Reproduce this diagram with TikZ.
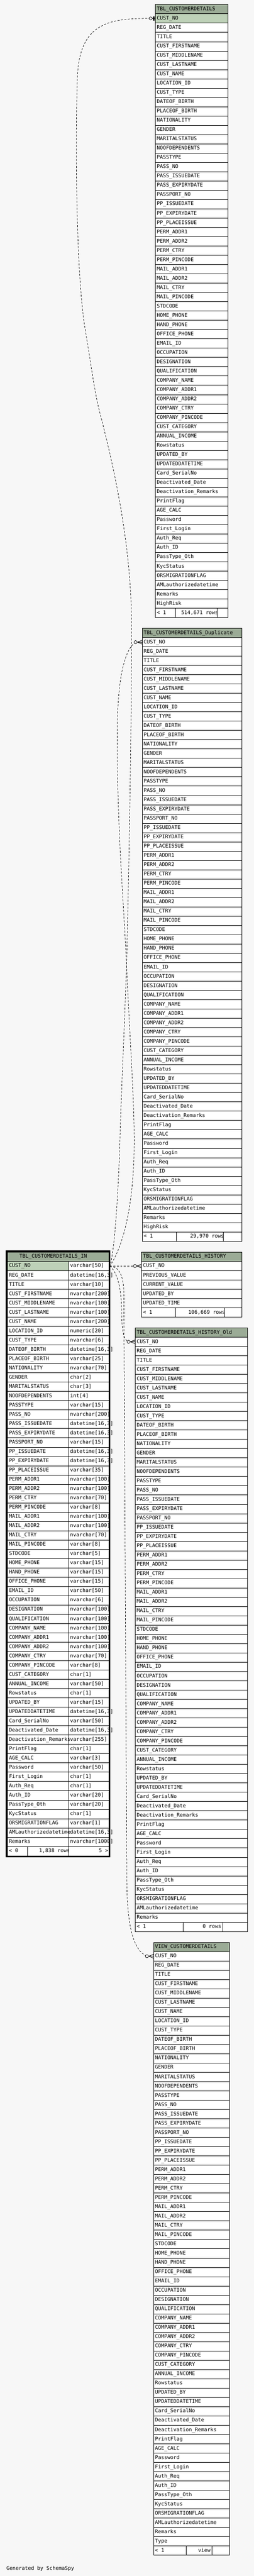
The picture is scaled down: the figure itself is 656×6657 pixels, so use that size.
\documentclass[tikz,border=0pt]{standalone}
\usepackage{fontspec}
\usetikzlibrary{calc}
\newfontfamily\tabfont{DejaVu Sans Mono}
\definecolor{bgcol}{HTML}{F7F7F7}
\definecolor{hdcol}{HTML}{9BAB96}
\definecolor{pkcol}{HTML}{BED1B8}
\tikzset{
  cell/.style={draw=black, line width=1pt, minimum height=24pt, inner sep=0pt, outer sep=0pt, anchor=north west, fill=white},
  txt/.style={font=\tabfont\fontsize{13.2}{16}\selectfont, inner sep=0pt, outer sep=0pt, anchor=base west},
  conn/.style={draw=black, line width=1pt, dash pattern=on 5pt off 4pt},
  endmark/.style={draw=black, line width=1pt},
}
\catcode`\_=12
\def\colsA{CUST_NO,REG_DATE,TITLE,CUST_FIRSTNAME,CUST_MIDDLENAME,CUST_LASTNAME,CUST_NAME,LOCATION_ID,CUST_TYPE,%
DATEOF_BIRTH,PLACEOF_BIRTH,NATIONALITY,GENDER,MARITALSTATUS,NOOFDEPENDENTS,PASSTYPE,PASS_NO,PASS_ISSUEDATE,%
PASS_EXPIRYDATE,PASSPORT_NO,PP_ISSUEDATE,PP_EXPIRYDATE,PP_PLACEISSUE,PERM_ADDR1,PERM_ADDR2,PERM_CTRY,PERM_PINCODE,%
MAIL_ADDR1,MAIL_ADDR2,MAIL_CTRY,MAIL_PINCODE,STDCODE,HOME_PHONE,HAND_PHONE,OFFICE_PHONE,EMAIL_ID,OCCUPATION,%
DESIGNATION,QUALIFICATION,COMPANY_NAME,COMPANY_ADDR1,COMPANY_ADDR2,COMPANY_CTRY,COMPANY_PINCODE,CUST_CATEGORY,%
ANNUAL_INCOME,Rowstatus,UPDATED_BY,UPDATEDDATETIME,Card_SerialNo,Deactivated_Date,Deactivation_Remarks,PrintFlag,%
AGE_CALC,Password,First_Login,Auth_Req,Auth_ID,PassType_Oth,KycStatus,ORSMIGRATIONFLAG,AMLauthorizedatetime,Remarks}
\edef\colsB{\colsA,HighRisk}
\edef\colsV{\colsA,Type}
\def\colsH{CUST_NO,PREVIOUS_VALUE,CURRENT_VALUE,UPDATED_BY,UPDATED_TIME}

% #1 prefix, #2 x, #3 width, #4 ytop, #5 title, #6 list, #7 pk fill
\newcommand\mktable[7]{%
  \node[cell, fill=hdcol, minimum width=#3pt] (#1-0) at (#2,#4) {};
  \node[txt] (#1-title) at ($(#1-0.west)+(4,3.5)$) {#5};
  \foreach \cname [count=\i] in #6 {%
    \ifnum\i=1 \def\cf{#7}\else\def\cf{white}\fi
    \node[cell, fill=\cf, minimum width=#3pt] (#1-\i) at (#2,#4+24*\i) {};
    \node[txt] (#1-t\i) at ($(#1-\i.west)+(4,3.5)$) {\cname};
  }%
}
% #1 prefix, #2 x, #3 y, #4 #5 #6 widths, #7 left text, #8 middle text, #9 offset of its right end
\newcommand\mkfoot[9]{%
  \node[cell, minimum width=#4pt] (#1-fa) at (#2,#3) {};
  \node[cell, minimum width=#5pt] (#1-fb) at (#1-fa.north east) {};
  \node[cell, minimum width=#6pt] (#1-fc) at (#1-fb.north east) {};
  \node[txt] (#1-fat) at ($(#1-fa.west)+(4,3.5)$) {#7};
  \begin{scope}
    \clip (#1-fb.north west) rectangle (#1-fb.south east);
    \node[txt, anchor=base east] (#1-fbt) at ($(#1-fb.west)+(#9,3.5)$) {#8};
  \end{scope}
}
\newcommand\crowfoot[1]{%
  \draw[endmark] ($(#1.west)+(-12.5,0)$) -- ($(#1.west)+(0,-5)$)
                 ($(#1.west)+(-12.5,0)$) -- (#1.west)
                 ($(#1.west)+(-12.5,0)$) -- ($(#1.west)+(0,5)$);
  \filldraw[endmark, fill=bgcol] ($(#1.west)+(-17,0)$) circle (4);
}

\begin{document}
\begin{tikzpicture}[x=1pt, y=-1pt]
\fill[bgcol] (0,0) rectangle (656,6657);
\useasboundingbox (0,0) rectangle (656,6657);

% ---------- TBL_CUSTOMERDETAILS ----------
\mktable{cd}{401.3}{188}{11.7}{TBL_CUSTOMERDETAILS}{\colsB}{pkcol}
\mkfoot{cd}{401.3}{1571.7}{51.4}{108}{28.6}{< 1}{514,671 rows}{111}

% ---------- TBL_CUSTOMERDETAILS_Duplicate ----------
\mktable{dup}{367.3}{257}{1623.5}{TBL_CUSTOMERDETAILS_Duplicate}{\colsB}{white}
\mkfoot{dup}{367.3}{3183.5}{88.7}{120.7}{47.6}{< 1}{29,970 rows}{123}

% ---------- TBL_CUSTOMERDETAILS_HISTORY ----------
\mktable{hist}{365.7}{259.6}{3235.7}{TBL_CUSTOMERDETAILS_HISTORY}{\colsH}{white}
\mkfoot{hist}{365.7}{3379.7}{87}{126.6}{46}{< 1}{106,669 rows}{129.3}

% ---------- TBL_CUSTOMERDETAILS_HISTORY_Old ----------
\mktable{hold}{349.4}{290.6}{3431.5}{TBL_CUSTOMERDETAILS_HISTORY_Old}{\colsA}{white}
\mkfoot{hold}{349.4}{4967.5}{124.2}{102.1}{64.3}{< 1}{0 rows}{97.9}

% ---------- VIEW_CUSTOMERDETAILS ----------
\mktable{view}{396.6}{196.7}{5019.3}{VIEW_CUSTOMERDETAILS}{\colsV}{white}
\mkfoot{view}{396.6}{6579.3}{85}{65.7}{46}{< 1}{view}{62.4}

% ---------- TBL_CUSTOMERDETAILS_IN (focus) ----------
\node[cell, fill=hdcol, minimum width=261.7pt] (in-0) at (19.3,3235.7) {};
\node[txt] (in-title) at ($(in-0.west)+(30.7,3.5)$) {TBL_CUSTOMERDETAILS_IN};
\foreach \cn/\ct [count=\i] in {CUST_NO/varchar[50],
REG_DATE/{datetime[16,3]},
TITLE/varchar[10],
CUST_FIRSTNAME/nvarchar[200],
CUST_MIDDLENAME/nvarchar[100],
CUST_LASTNAME/nvarchar[100],
CUST_NAME/nvarchar[200],
LOCATION_ID/numeric[20],
CUST_TYPE/nvarchar[6],
DATEOF_BIRTH/{datetime[16,3]},
PLACEOF_BIRTH/varchar[25],
NATIONALITY/nvarchar[70],
GENDER/char[2],
MARITALSTATUS/char[3],
NOOFDEPENDENTS/int[4],
PASSTYPE/varchar[15],
PASS_NO/nvarchar[200],
PASS_ISSUEDATE/{datetime[16,3]},
PASS_EXPIRYDATE/{datetime[16,3]},
PASSPORT_NO/varchar[15],
PP_ISSUEDATE/{datetime[16,3]},
PP_EXPIRYDATE/{datetime[16,3]},
PP_PLACEISSUE/varchar[35],
PERM_ADDR1/nvarchar[100],
PERM_ADDR2/nvarchar[100],
PERM_CTRY/nvarchar[70],
PERM_PINCODE/varchar[8],
MAIL_ADDR1/nvarchar[100],
MAIL_ADDR2/nvarchar[100],
MAIL_CTRY/nvarchar[70],
MAIL_PINCODE/varchar[8],
STDCODE/varchar[5],
HOME_PHONE/varchar[15],
HAND_PHONE/varchar[15],
OFFICE_PHONE/varchar[15],
EMAIL_ID/varchar[50],
OCCUPATION/nvarchar[6],
DESIGNATION/nvarchar[100],
QUALIFICATION/nvarchar[100],
COMPANY_NAME/nvarchar[100],
COMPANY_ADDR1/nvarchar[100],
COMPANY_ADDR2/nvarchar[100],
COMPANY_CTRY/nvarchar[70],
COMPANY_PINCODE/varchar[8],
CUST_CATEGORY/char[1],
ANNUAL_INCOME/varchar[50],
Rowstatus/char[1],
UPDATED_BY/varchar[15],
UPDATEDDATETIME/{datetime[16,3]},
Card_SerialNo/varchar[50],
Deactivated_Date/{datetime[16,3]},
Deactivation_Remarks/varchar[255],
PrintFlag/char[1],
AGE_CALC/varchar[3],
Password/varchar[50],
First_Login/char[1],
Auth_Req/char[1],
Auth_ID/varchar[20],
PassType_Oth/varchar[20],
KycStatus/char[1],
ORSMIGRATIONFLAG/varchar[1],
AMLauthorizedatetime/{datetime[16,3]},
Remarks/nvarchar[1000]} {%
  \ifnum\i=1 \def\cf{pkcol}\else\def\cf{white}\fi
  \node[cell, fill=\cf, minimum width=158pt] (in-\i) at (19.3,3235.7+24*\i) {};
  \node[cell, minimum width=103.7pt] (in-y\i) at (in-\i.north east) {};
  \node[txt] (in-n\i) at ($(in-\i.west)+(4,3.5)$) {\cn};
  \node[txt] (in-t\i) at ($(in-y\i.west)+(4,3.5)$) {\ct};
}
\mkfoot{in}{19.3}{4771.7}{52.2}{105.9}{103.6}{< 0}{1,838 rows}{109}
\node[txt, anchor=base east] (in-fct) at ($(in-fc.west)+(102,3.5)$) {5 >};
\draw[line width=4pt] (17.3,3233.7) rectangle (283,4797.7);

% ---------- connectors ----------
\coordinate (J) at ($(in-y1.east)+(3,0)$);
\coordinate (cdC) at ($(cd-1.west)+(-12,0)$);
\coordinate (dupC) at ($(dup-1.west)+(-17,0)$);
\coordinate (histC) at ($(hist-1.west)+(-17,0)$);
\coordinate (holdC) at ($(hold-1.west)+(-17,0)$);
\coordinate (viewC) at ($(view-1.west)+(-17,0)$);

\draw[conn] (cdC) .. controls (280,47) and (205,60) .. (200,200)
  .. controls (195,340) and (195,700) .. (220,850)
  .. controls (235,940) and (245,1020) .. (260,1074)
  .. controls (300,1230) and (340,1420) .. (340,1621)
  .. controls (340,1900) and (332,2300) .. (327,2495)
  .. controls (320,2700) and (312,2850) .. (310,2947)
  .. controls (305,3100) and (295,3240) .. (J);

\draw[conn] (dupC) .. controls (320,1680) and (303,1760) .. (303,1900)
  .. controls (303,2150) and (318,2300) .. (327,2495)
  .. controls (336,2690) and (347,2850) .. (346.7,2947)
  .. controls (347,3090) and (325,3210) .. (J);

\draw[conn] (J) -- (histC);

\draw[conn] (J) .. controls (300,3285) and (313,3320) .. (314,3380)
  .. controls (315,3440) and (318,3462) .. (holdC);

\draw[conn] (J) .. controls (305,3274) and (319,3290) .. (320,3340)
  -- (327.6,4853)
  .. controls (328,4980) and (345,5040) .. (viewC);

% parent end at TBL_CUSTOMERDETAILS
\draw[endmark] ($(cdC)+(4,0)$) -- (cd-1.west);
\fill[black] ($(cd-1.west)+(-6,-5.3)$) rectangle ($(cd-1.west)+(-2,5.3)$);
\filldraw[endmark, fill=bgcol] (cdC) circle (4);

% child ends
\crowfoot{dup-1}
\crowfoot{hist-1}
\crowfoot{hold-1}
\crowfoot{view-1}

\node[txt] (gen) at (16.7,6642) {Generated by SchemaSpy};
\end{tikzpicture}
\end{document}
